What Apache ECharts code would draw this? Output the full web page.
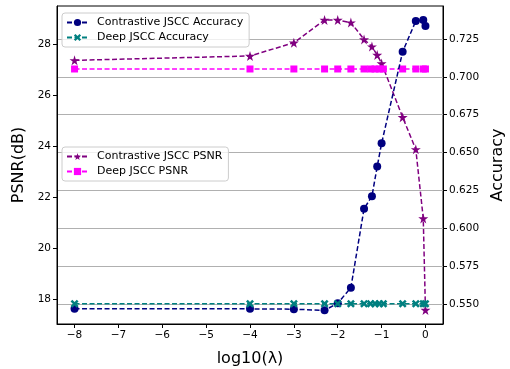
<!DOCTYPE html>
<html>
<head>
<meta charset="utf-8">
<script src="https://cdn.jsdelivr.net/npm/echarts@6/dist/echarts.min.js"></script>
<style>
  html, body { margin: 0; padding: 0; background: #fff; }
  #chart { width: 510px; height: 369px; }
</style>
</head>
<body>
<div id="chart"></div>
<script>
// log10(lambda) positions
const xContrastive = [-8, -4, -3, -2.3, -2, -1.7, -1.4, -1.22, -1.1, -1, -0.52, -0.22, -0.05, 0]
const xDeep = [-8, -4, -3, -2.3, -2, -1.7, -1.4, -1.25, -1.15, -1.05, -0.96, -0.52, -0.22, -0.05, 0]

const contrastiveAcc = [0.5468, 0.5468, 0.5466, 0.5458, 0.5505, 0.5608, 0.6129, 0.6212, 0.6408, 0.6561, 0.7166, 0.7369, 0.7376, 0.7336]
const deepAcc = [0.5501, 0.5501, 0.5501, 0.5501, 0.5501, 0.5501, 0.5501, 0.5501, 0.5501, 0.5501, 0.5501, 0.5501, 0.5501, 0.5501, 0.5501]
const contrastivePsnr = [27.36, 27.53, 28.05, 28.94, 28.94, 28.84, 28.18, 27.9, 27.57, 27.24, 25.13, 23.87, 21.16, 17.57]
const deepPsnr = [27.02, 27.02, 27.02, 27.02, 27.02, 27.02, 27.02, 27.02, 27.02, 27.02, 27.02, 27.02, 27.02, 27.02, 27.02]

const xTicks = [-8, -7, -6, -5, -4, -3, -2, -1, 0]
const psnrTicks = [18, 20, 22, 24, 26, 28]
const accTicks = [0.55, 0.575, 0.6, 0.625, 0.65, 0.675, 0.7, 0.725]

const STAR = "path://M50,0 L61,35 L98,35 L68,57 L79,91 L50,70 L21,91 L32,57 L2,35 L39,35 Z"
const XMARK = "path://M0,22 L22,0 L50,28 L78,0 L100,22 L72,50 L100,78 L78,100 L50,72 L22,100 L0,78 L28,50 Z"
const FONT = "DejaVu Sans"

const pairs = (xs, ys) => xs.map((x, i) => [x, ys[i]])

const chart = echarts.init(document.getElementById("chart"), null, { renderer: "canvas" })

function lineSeries(name, xs, ys, color, symbol, size, yAxisIndex, z) {
  return {
    name,
    type: "line",
    yAxisIndex,
    data: pairs(xs, ys),
    symbol,
    symbolSize: size,
    showSymbol: true,
    z,
    itemStyle: { color },
    lineStyle: { color, width: 1.5, type: [5, 2.5] },
    animation: false,
  }
}

const legendBase = {
  orient: "vertical",
  left: 62,
  itemWidth: 21,
  itemHeight: 9,
  itemGap: 4,
  padding: [4, 6, 4, 4],
  backgroundColor: "rgba(255,255,255,0.8)",
  borderColor: "#cccccc",
  borderWidth: 1,
  borderRadius: 3,
  textStyle: { fontFamily: FONT, fontSize: 11, color: "#000", padding: [0, 0, 0, 4] },
}

chart.setOption({
  animation: false,
  grid: {
    left: 57, right: 67, top: 6, bottom: 45,
    outerBoundsMode: "none",
    containLabel: false,
    show: true, borderColor: "#000", borderWidth: 1, backgroundColor: "transparent",
  },
  legend: [
    Object.assign({}, legendBase, { top: 13, data: ["Contrastive JSCC Accuracy", "Deep JSCC Accuracy"] }),
    Object.assign({}, legendBase, { top: 147, data: ["Contrastive JSCC PSNR", "Deep JSCC PSNR"] }),
  ],
  xAxis: {
    type: "value",
    min: -8.4,
    max: 0.4,
    name: "log10(λ)",
    nameLocation: "middle",
    nameGap: 27,
    nameTextStyle: { fontFamily: FONT, fontSize: 16, color: "#000" },
    axisLine: { show: true, onZero: false, lineStyle: { color: "#000" } },
    axisTick: { show: true, length: 4, customValues: xTicks, lineStyle: { color: "#000" } },
    axisLabel: {
      customValues: xTicks, fontFamily: FONT, fontSize: 10.5, color: "#000", margin: 6,
      formatter: (v) => String(v).replace("-", "\u2212"),
    },
    splitLine: { show: false },
  },
  yAxis: [
    {
      type: "value",
      position: "left",
      min: 17.02,
      max: 29.49,
      name: "PSNR(dB)",
      nameLocation: "middle",
      nameRotate: 90,
      nameGap: 21,
      nameTextStyle: { fontFamily: FONT, fontSize: 16, color: "#000" },
      axisLine: { show: true, onZero: false, lineStyle: { color: "#000" } },
      axisTick: { show: true, length: 4, customValues: psnrTicks, lineStyle: { color: "#000" } },
      axisLabel: { customValues: psnrTicks, fontFamily: FONT, fontSize: 10.5, color: "#000", margin: 6 },
      splitLine: { show: false },
    },
    {
      type: "value",
      position: "right",
      min: 0.5368,
      max: 0.7468,
      name: "Accuracy",
      nameLocation: "middle",
      nameRotate: 90,
      nameGap: 36,
      nameTextStyle: { fontFamily: FONT, fontSize: 16, color: "#000" },
      axisLine: { show: true, onZero: false, lineStyle: { color: "#000" } },
      axisTick: { show: true, length: 4, customValues: accTicks, lineStyle: { color: "#000" } },
      axisLabel: {
        customValues: accTicks, fontFamily: FONT, fontSize: 10.5, color: "#000", margin: 6,
        formatter: (v) => v.toFixed(3),
      },
      splitLine: { show: true, customValues: accTicks, lineStyle: { color: "#b0b0b0", width: 1 } },
    },
  ],
  series: [
    lineSeries("Contrastive JSCC PSNR", xContrastive, contrastivePsnr, "#800080", STAR, 10, 0, 2),
    lineSeries("Deep JSCC PSNR", xDeep, deepPsnr, "#ff00ff", "rect", 7, 0, 2),
    lineSeries("Contrastive JSCC Accuracy", xContrastive, contrastiveAcc, "#000080", "circle", 8, 1, 3),
    lineSeries("Deep JSCC Accuracy", xDeep, deepAcc, "#008080", XMARK, 8, 1, 3),
  ],
})
</script>
</body>
</html>
